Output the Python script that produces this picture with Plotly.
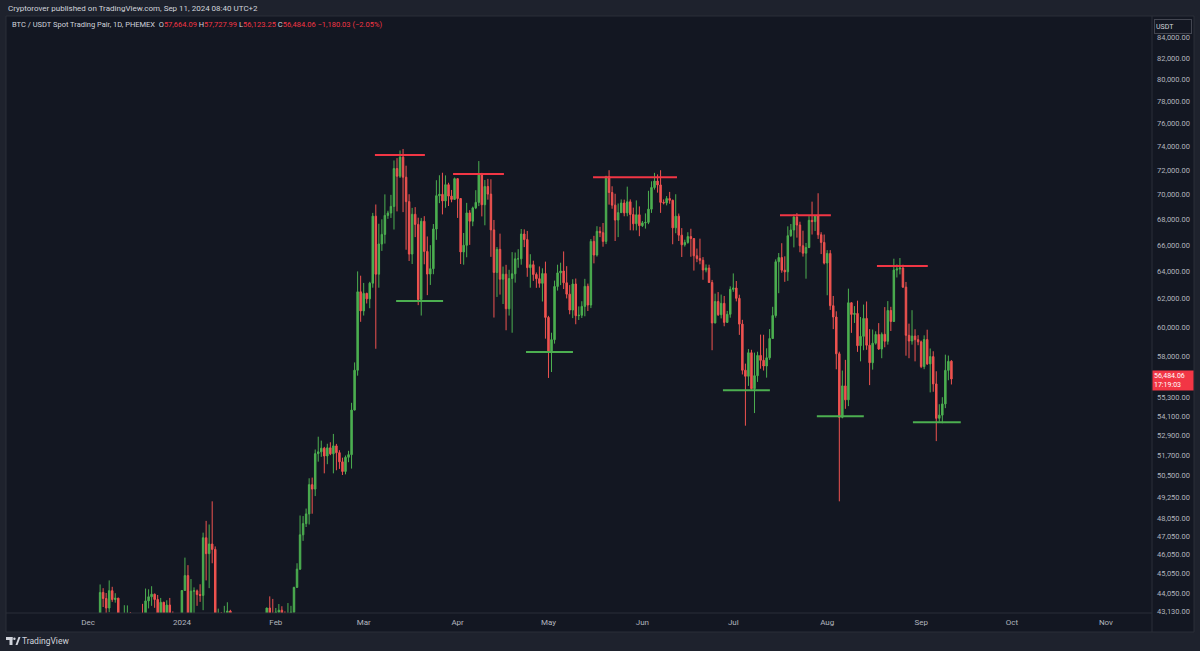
import math
import pandas as pd
import plotly.graph_objects as go

# ---------------- DATA (daily BTC/USDT, PHEMEX) ----------------
# (open, high, low, close) per day
ohlc_2023_12 = [
    (37720, 38950, 37630, 38690), (38690, 39690, 38650, 39470), (39470, 40000, 39280, 39980),
    (39980, 42420, 39980, 41990), (41990, 44490, 41420, 44080), (44080, 44300, 43340, 43770),
    (43770, 44050, 42820, 43290), (43290, 44700, 43080, 44170), (44170, 44370, 43600, 43720),
    (43720, 44040, 43560, 43790), (43790, 43800, 40220, 41240), (41240, 42100, 40680, 41490),
    (41490, 43430, 40560, 42880), (42880, 43420, 41420, 43020), (43020, 43090, 41670, 41940),
    (41940, 42720, 41650, 42260), (42260, 42430, 41250, 41370), (41370, 42750, 40520, 42660),
    (42660, 43500, 41800, 42260), (42260, 44280, 42180, 43650), (43650, 44240, 43270, 43860),
    (43860, 44400, 43400, 43990), (43990, 44020, 43300, 43720), (43720, 43950, 42750, 43010),
    (43010, 43800, 42720, 43580), (43580, 43600, 41640, 42510), (42510, 43680, 42100, 43440),
    (43440, 43800, 42310, 42580), (42580, 43120, 41300, 42070), (42070, 42600, 41520, 42140),
    (42140, 42900, 41970, 42280),
]
ohlc_2024_01 = [
    (42280, 44200, 42180, 44180), (44180, 45900, 44180, 44950), (44950, 45500, 40750, 42850),
    (42850, 44770, 42630, 44150), (44150, 44340, 42620, 44160), (44160, 44230, 43400, 43970),
    (43970, 44500, 43600, 43930), (43930, 47250, 43180, 46970), (46970, 47900, 44700, 46110),
    (46110, 47700, 44300, 46630), (46630, 49000, 45600, 46340), (46340, 46500, 41500, 42780),
    (42780, 43260, 42440, 42840), (42840, 43080, 41720, 41730), (41730, 43400, 41720, 42510),
    (42510, 43580, 42050, 43140), (43140, 43200, 42200, 42770), (42770, 42930, 40680, 41260),
    (41260, 42200, 40280, 41620), (41620, 41870, 41450, 41660), (41660, 41880, 41500, 41570),
    (41570, 41680, 39430, 39510), (39510, 40130, 38560, 39850), (39850, 40550, 39480, 40070),
    (40070, 40350, 39500, 39940), (39940, 42220, 39820, 41800), (41800, 42200, 41390, 42100),
    (42100, 42840, 41620, 42020), (42020, 43300, 41800, 43290), (43290, 43880, 42680, 42950),
    (42950, 43750, 42280, 42580),
]
ohlc_2024_02 = [
    (42580, 43290, 41880, 43080), (43080, 43490, 42580, 43180), (43180, 43380, 42890, 42990),
    (42990, 43120, 42230, 42580), (42580, 43540, 42250, 42660), (42660, 43400, 42520, 43080),
    (43080, 44370, 42780, 44340), (44340, 45600, 44330, 45290), (45290, 48200, 45250, 47130),
    (47130, 48170, 46800, 47750), (47750, 48590, 47560, 48290), (48290, 50330, 47700, 49960),
    (49960, 50370, 48300, 49700), (49700, 52040, 49300, 51790), (51790, 52820, 51310, 51900),
    (51900, 52580, 51600, 52120), (52120, 52200, 50620, 51650), (51650, 52390, 51160, 52140),
    (52140, 52480, 51700, 51780), (51780, 52990, 50620, 52260), (52260, 52380, 50800, 51850),
    (51850, 52000, 50880, 51300), (51300, 51550, 50520, 50730), (50730, 51680, 50560, 51570),
    (51570, 51960, 51280, 51730), (51730, 54940, 50900, 54480), (54480, 57580, 54460, 57060),
    (57060, 64000, 56700, 62500), (62500, 63680, 60360, 61130),
]
ohlc_2024_03 = [
    (61130, 63150, 60800, 62390), (62390, 62430, 61660, 61990), (61990, 63230, 61320, 63130),
    (63130, 68500, 62800, 68240), (68240, 69170, 58500, 63790), (63790, 67640, 62800, 66070),
    (66070, 67990, 65540, 66810), (66810, 69990, 66100, 68300), (68300, 68670, 68030, 68490),
    (68490, 69950, 68100, 69020), (69020, 72800, 67190, 72120), (72120, 73000, 68620, 71480),
    (71480, 73650, 71330, 73080), (73080, 73780, 68560, 71400), (71400, 72360, 65630, 69400),
    (69400, 70000, 64780, 65300), (65300, 68900, 64550, 68390), (68390, 68960, 66600, 67590),
    (67590, 68120, 61540, 61940), (61940, 68100, 60800, 67840), (67840, 68240, 64530, 65500),
    (65500, 66650, 62260, 63800), (63800, 65980, 63000, 64200), (64200, 67620, 63790, 67230),
    (67230, 71150, 66390, 69880), (69880, 71560, 69280, 69990), (69990, 71770, 68380, 69460),
    (69460, 71550, 68910, 70780), (70780, 70940, 69050, 69850), (69850, 70350, 69350, 69580),
    (69580, 71370, 69570, 71280),
]
ohlc_2024_04 = [
    (71280, 71290, 68100, 69650), (69650, 69680, 64550, 65460), (65460, 66920, 64500, 65970),
    (65970, 69300, 65060, 68500), (68500, 68720, 66000, 67840), (67840, 69000, 67450, 68900),
    (68900, 70330, 68800, 69340), (69340, 72750, 69040, 71620), (71620, 71760, 68220, 69150),
    (69150, 71170, 67520, 70630), (70630, 71260, 69560, 70010), (70010, 71230, 65090, 67160),
    (67160, 67940, 60660, 63920), (63920, 65840, 62130, 65660), (65660, 66870, 62300, 63420),
    (63420, 64360, 61620, 63790), (63790, 64490, 59770, 61280), (61280, 64120, 60800, 63470),
    (63470, 65450, 59600, 63820), (63820, 65420, 63170, 64940), (64940, 65670, 64270, 64940),
    (64940, 67230, 64500, 66840), (66840, 67200, 65830, 66410), (66410, 67080, 63600, 64280),
    (64280, 65290, 62800, 64500), (64500, 64800, 63300, 63770), (63770, 63920, 62790, 63460),
    (63460, 64370, 62800, 63120), (63120, 64230, 61800, 63840), (63840, 64730, 59190, 60670),
]
ohlc_2024_05 = [
    (60670, 60780, 56550, 58250), (58250, 59600, 56940, 59120), (59120, 63320, 58850, 62890),
    (62890, 64500, 62590, 63890), (63890, 64650, 62990, 64030), (64030, 65500, 62700, 63160),
    (63160, 64390, 62020, 62330), (62330, 62990, 60890, 61190), (61190, 63420, 60620, 63070),
    (63070, 63470, 60190, 60790), (60790, 61450, 60490, 60820), (60820, 61820, 60630, 61450),
    (61450, 63450, 60750, 62900), (62900, 63100, 61120, 61550), (61550, 66450, 61330, 66270),
    (66270, 66700, 64600, 65230), (65230, 67450, 65110, 67050), (67050, 67400, 66600, 66940),
    (66940, 67700, 65860, 66270), (66270, 71520, 66060, 71450), (71450, 71980, 69160, 70140),
    (70140, 70650, 68830, 69120), (69120, 70040, 66300, 67930), (67930, 69250, 66600, 68520),
    (68520, 69580, 68500, 69290), (69290, 69560, 68230, 68500), (68500, 70620, 68230, 69390),
    (69390, 69580, 67130, 68370), (68370, 68920, 67120, 67640), (67640, 69500, 67120, 68350),
    (68350, 69020, 66670, 67490),
]
ohlc_2024_06 = [
    (67490, 67860, 67390, 67710), (67710, 68460, 67260, 67750), (67750, 70280, 67610, 68800),
    (68800, 71060, 68500, 70550), (70550, 71760, 70380, 71080), (71080, 71630, 70130, 70760),
    (70760, 71980, 68500, 69340), (69340, 69580, 69180, 69300), (69300, 69850, 69100, 69650),
    (69650, 70190, 69230, 69510), (69510, 69560, 66050, 67320), (67320, 70000, 66900, 68240),
    (68240, 68450, 66300, 66750), (66750, 67300, 65080, 66010), (66010, 66400, 65870, 66190),
    (66190, 66980, 66090, 66640), (66640, 67250, 65100, 66490), (66490, 66490, 64060, 65170),
    (65170, 65720, 64690, 64960), (64960, 66480, 64530, 64830), (64830, 65070, 63380, 64100),
    (64100, 64520, 63930, 64250), (64250, 64500, 63180, 63180), (63180, 63370, 58400, 60280),
    (60280, 62370, 60250, 61800), (61800, 62480, 60770, 60860), (60860, 62300, 60600, 61670),
    (61670, 62200, 60050, 60320), (60320, 61130, 60280, 60890), (60890, 62900, 60650, 62680),
]
ohlc_2024_07 = [
    (62680, 63850, 62500, 62780), (62780, 63290, 61810, 62030), (62030, 62290, 59450, 60200),
    (60200, 60500, 56780, 57060), (57060, 57500, 53500, 56660), (56660, 58480, 56030, 58230),
    (58230, 58430, 55790, 55850), (55850, 58240, 54290, 56700), (56700, 58300, 56290, 58050),
    (58050, 59470, 57160, 57720), (57720, 59460, 57040, 57340), (57340, 58530, 56570, 57890),
    (57890, 59850, 57750, 59200), (59200, 61420, 59190, 60800), (60800, 64900, 60650, 64720),
    (64720, 65380, 62400, 65040), (65040, 66130, 63900, 64090), (64090, 65130, 63230, 63970),
    (63970, 67440, 63300, 66710), (66710, 67620, 66620, 67150), (67150, 68370, 65810, 68170),
    (68170, 68480, 66560, 67540), (67540, 67800, 65440, 65930), (65930, 67100, 65110, 65370),
    (65370, 66150, 63460, 65800), (65800, 68240, 65750, 67910), (67910, 69400, 66800, 67810),
    (67810, 68320, 67070, 68250), (68250, 70080, 66460, 66780), (66780, 66980, 65300, 66190),
    (66190, 66800, 64520, 64620),
]
ohlc_2024_08 = [
    (64620, 65600, 62250, 65350), (65350, 65600, 61200, 61500), (61500, 62200, 59850, 60700),
    (60700, 61100, 57120, 58160), (58160, 58300, 49000, 54020), (54020, 57040, 53960, 56030),
    (56030, 57750, 54560, 55130), (55130, 62730, 54730, 61710), (61710, 61750, 59590, 60880),
    (60880, 61470, 60280, 60950), (60950, 61860, 58290, 58710), (58710, 60700, 57650, 59350),
    (59350, 61580, 58400, 60600), (60600, 61800, 58430, 58740), (58740, 59850, 56080, 57560),
    (57560, 59820, 57100, 58880), (58880, 59700, 58780, 59480), (59480, 60270, 58420, 58480),
    (58480, 59620, 57860, 59490), (59490, 61400, 58600, 59010), (59010, 61830, 58780, 61160),
    (61160, 61420, 59720, 60380), (60380, 64950, 60350, 64100), (64100, 64520, 63550, 64180),
    (64180, 65000, 63780, 64250), (64250, 64500, 62800, 62840), (62840, 63220, 58030, 59420),
    (59420, 60230, 57860, 59030), (59030, 61180, 58780, 59370), (59370, 59840, 57650, 59120),
    (59120, 59430, 58740, 58970),
]
ohlc_2024_09 = [
    (58970, 59060, 57200, 57300), (57300, 59420, 57130, 59130), (59130, 59810, 57410, 57480),
    (57480, 58520, 55610, 57970), (57970, 58330, 55650, 56160), (56160, 56990, 52550, 53960),
    (53960, 54850, 53740, 54160), (54160, 55300, 53650, 54870), (54870, 58100, 54600, 57050),
    (57050, 58040, 56400, 57650), (57664.09, 57727.99, 56123.25, 56484.06),
]

first_day = "2023-12-01"

# user-drawn horizontal levels
line_starts = ["2024-03-04 17:00", "2024-03-11 17:00", "2024-03-30 12:00", "2024-04-23 14:00",
               "2024-05-15 17:00", "2024-06-27 14:00", "2024-07-16 10:00", "2024-07-28 14:00",
               "2024-08-17 10:00", "2024-08-29 07:00"]
line_ends = ["2024-03-21 05:00", "2024-03-27 05:00", "2024-04-16 07:00", "2024-05-09 02:00",
             "2024-06-12 10:00", "2024-07-13 02:00", "2024-08-02 05:00", "2024-08-13 02:00",
             "2024-09-03 05:00", "2024-09-14 02:00"]
line_levels = [73260, 61840, 71670, 58280, 71390, 55750, 68310, 54090, 64400, 53710]
line_kinds = ["res", "sup", "res", "sup", "res", "sup", "res", "sup", "res", "sup"]

price_ticks = [84000, 82000, 80000, 78000, 76000, 74000, 72000, 70000, 68000, 66000, 64000,
               62000, 60000, 58000, 55300, 54100, 52900, 51700, 50500, 49250, 48050, 47050,
               46050, 45050, 44050, 43130]
month_ticks = ["2023-12-01", "2024-01-01", "2024-02-01", "2024-03-01", "2024-04-01",
               "2024-05-01", "2024-06-01", "2024-07-01", "2024-08-01", "2024-09-01",
               "2024-10-01", "2024-11-01"]
month_labels = ["Dec", "2024", "Feb", "Mar", "Apr", "May", "Jun", "Jul", "Aug", "Sep", "Oct", "Nov"]

last_price = 56484.06
countdown = "17:19:03"
change_txt = "−1,180.03 (−2.05%)"

# ---------------- BUILD ----------------
rows = (ohlc_2023_12 + ohlc_2024_01 + ohlc_2024_02 + ohlc_2024_03 + ohlc_2024_04 +
        ohlc_2024_05 + ohlc_2024_06 + ohlc_2024_07 + ohlc_2024_08 + ohlc_2024_09)
dates = pd.date_range(first_day, periods=len(rows), freq="D")
opens = [r[0] for r in rows]
highs = [r[1] for r in rows]
lows = [r[2] for r in rows]
closes = [r[3] for r in rows]

BG = "#131722"
OUTER = "#1e222d"
BORDER = "#2a2e39"
TXT = "#b2b5be"
UP = "#4caf50"
DOWN = "#ef5350"
RED = "#f23645"
FONT = "Roboto, Liberation Sans, sans-serif"

W, H = 1200, 651
L, R, T, B = 6, 48, 16, 38
PW, PH = W - L - R, H - T - B


def px(x):
    return (x - L) / PW


def py(y):
    return (H - B - y) / PH


fig = go.Figure()
fig.add_trace(go.Candlestick(
    x=dates, open=opens, high=highs, low=lows, close=closes,
    increasing=dict(line=dict(color=UP, width=1), fillcolor=UP),
    decreasing=dict(line=dict(color=DOWN, width=1), fillcolor=DOWN),
    whiskerwidth=0, showlegend=False, hoverinfo="skip",
))
for s, e, lv, k in zip(line_starts, line_ends, line_levels, line_kinds):
    fig.add_trace(go.Scatter(
        x=[s, e], y=[lv, lv], mode="lines",
        line=dict(color=RED if k == "res" else UP, width=2),
        showlegend=False, hoverinfo="skip",
    ))

shapes = [
    # chart frame
    dict(type="rect", xref="paper", yref="paper", x0=px(6), x1=px(1194), y0=py(632), y1=py(16),
         fillcolor=BG, line=dict(color=BORDER, width=1), layer="below"),
    # price axis separator
    dict(type="line", xref="paper", yref="paper", x0=px(1152), x1=px(1152), y0=py(632), y1=py(16),
         line=dict(color=BORDER, width=1)),
    # time axis separator
    dict(type="line", xref="paper", yref="paper", x0=px(6), x1=px(1152), y0=py(613), y1=py(613),
         line=dict(color=BORDER, width=1)),
    # TradingView logo (approx.)
    dict(type="rect", xref="paper", yref="paper", x0=px(6), x1=px(12.5), y0=py(640), y1=py(637),
         fillcolor="#d1d4dc", line=dict(width=0)),
    dict(type="rect", xref="paper", yref="paper", x0=px(9.5), x1=px(12.5), y0=py(645), y1=py(637),
         fillcolor="#d1d4dc", line=dict(width=0)),
    dict(type="circle", xref="paper", yref="paper", x0=px(13.2), x1=px(15.6), y0=py(640), y1=py(637.5),
         fillcolor="#d1d4dc", line=dict(width=0)),
    dict(type="path", xref="paper", yref="paper",
         path=f"M {px(15.5)} {py(645)} L {px(18.5)} {py(637)} L {px(20.5)} {py(637)} L {px(17.5)} {py(645)} Z",
         fillcolor="#d1d4dc", line=dict(width=0)),
]

legend_txt = (
    "BTC / USDT Spot Trading Pair, 1D, PHEMEX&nbsp;&nbsp;"
    f"O<span style='color:{RED}'>{opens[-1]:,.2f}</span> "
    f"H<span style='color:{RED}'>{highs[-1]:,.2f}</span> "
    f"L<span style='color:{RED}'>{lows[-1]:,.2f}</span> "
    f"C<span style='color:{RED}'>{closes[-1]:,.2f}</span> "
    f"<span style='color:{RED}'>{change_txt}</span>"
)

annotations = [
    dict(xref="paper", yref="paper", x=px(6), y=py(8), xanchor="left", yanchor="middle",
         text="Cryptorover published on TradingView.com, Sep 11, 2024 08:40 UTC+2",
         showarrow=False, font=dict(family=FONT, size=8, color="#d1d4dc")),
    dict(xref="paper", yref="paper", x=px(10), y=py(24), xanchor="left", yanchor="middle",
         text=legend_txt, showarrow=False, font=dict(family=FONT, size=7.5, color="#d1d4dc")),
    dict(xref="paper", yref="paper", x=px(19.5), y=py(641), xanchor="left", yanchor="middle",
         text="TradingView", showarrow=False, font=dict(family=FONT, size=8.5, color="#d1d4dc")),
    dict(xref="paper", yref="paper", x=px(1154), y=py(26), xanchor="left", yanchor="middle",
         text="USDT", showarrow=False, width=34, height=11, align="left",
         bgcolor=BG, bordercolor="#434651", borderwidth=1, borderpad=1,
         font=dict(family=FONT, size=7, color="#d1d4dc")),
    dict(xref="paper", yref="y", x=1.0, y=math.log10(last_price), xanchor="left", yanchor="middle",
         yshift=-2, xshift=0,
         text=f"{last_price:,.2f}<br>{countdown}", showarrow=False, align="left",
         bgcolor=RED, borderpad=1, width=38,
         font=dict(family=FONT, size=7, color="#ffffff")),
]

fig.update_layout(
    width=W, height=H,
    margin=dict(l=L, r=R, t=T, b=B, pad=0),
    paper_bgcolor=OUTER, plot_bgcolor=BG,
    font=dict(family=FONT, color=TXT),
    shapes=shapes, annotations=annotations,
    hovermode=False,
    xaxis=dict(
        type="date", range=["2023-11-03 22:30", "2024-11-16 05:00"],
        rangeslider=dict(visible=False),
        tickvals=month_ticks, ticktext=month_labels, ticks="",
        showgrid=False, zeroline=False, showline=False,
        tickfont=dict(family=FONT, size=8, color=TXT), ticklabelstandoff=3,
    ),
    yaxis=dict(
        type="log", side="right",
        range=[math.log10(43040), math.log10(86100)],
        tickvals=price_ticks, ticktext=[f"{v:,.2f}" for v in price_ticks], ticks="",
        showgrid=False, zeroline=False, showline=False,
        tickfont=dict(family=FONT, size=7.5, color=TXT), ticklabelstandoff=4,
    ),
)

fig.write_html(
    "out.html",
    config={"displayModeBar": False},
    post_script="document.documentElement.style.margin='0';document.body.style.margin='0';"
                "document.body.style.overflow='hidden';",
)
